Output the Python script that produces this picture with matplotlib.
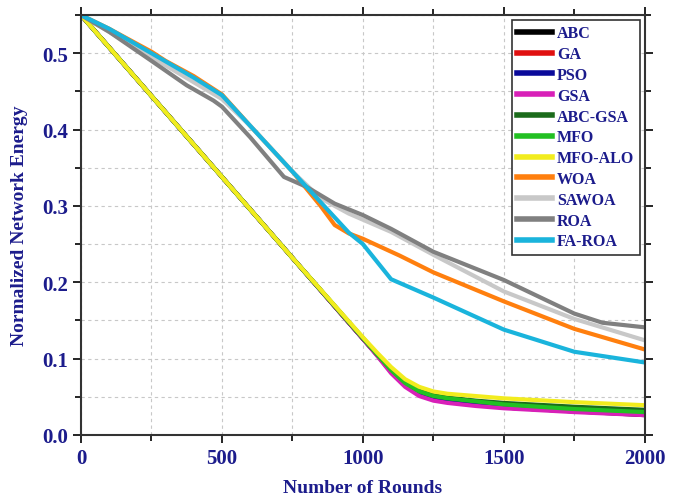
import matplotlib
matplotlib.use("Agg")
import matplotlib.pyplot as plt
from matplotlib.ticker import MultipleLocator, FormatStrFormatter

# Rounds at which the lower group of algorithms is sampled
rounds_low = [0, 250, 500, 750, 1000, 1050, 1100, 1150, 1200, 1250, 1300, 1400, 1500, 1750, 2000]

abc     = [0.55, 0.444, 0.338, 0.232, 0.126, 0.105, 0.083, 0.066, 0.054, 0.047, 0.044, 0.040, 0.036, 0.031, 0.026]
ga      = [0.55, 0.444, 0.338, 0.232, 0.126, 0.105, 0.083, 0.066, 0.054, 0.047, 0.044, 0.040, 0.036, 0.031, 0.027]
pso     = [0.55, 0.444, 0.338, 0.232, 0.126, 0.105, 0.083, 0.066, 0.054, 0.047, 0.044, 0.040, 0.036, 0.031, 0.028]
gsa     = [0.55, 0.444, 0.338, 0.232, 0.126, 0.104, 0.081, 0.063, 0.051, 0.045, 0.042, 0.038, 0.035, 0.030, 0.026]
abc_gsa = [0.55, 0.444, 0.338, 0.232, 0.127, 0.106, 0.086, 0.069, 0.058, 0.052, 0.049, 0.045, 0.042, 0.037, 0.033]
mfo     = [0.55, 0.444, 0.338, 0.232, 0.127, 0.106, 0.085, 0.068, 0.057, 0.051, 0.048, 0.044, 0.040, 0.034, 0.030]
mfo_alo = [0.55, 0.444, 0.338, 0.232, 0.128, 0.108, 0.089, 0.073, 0.063, 0.057, 0.054, 0.051, 0.048, 0.043, 0.039]

# Upper group of algorithms
woa_r   = [0, 100, 250, 300, 400, 500, 600, 750, 850, 900, 950, 1000, 1130, 1250, 1500, 1750, 2000]
woa     = [0.55, 0.532, 0.502, 0.490, 0.470, 0.446, 0.405, 0.345, 0.300, 0.275, 0.264, 0.257, 0.235, 0.213, 0.175, 0.139, 0.112]

sawoa_r = [0, 250, 500, 600, 750, 850, 950, 1000, 1100, 1250, 1500, 1750, 2000]
sawoa   = [0.55, 0.495, 0.440, 0.405, 0.345, 0.310, 0.290, 0.282, 0.266, 0.236, 0.188, 0.152, 0.124]

roa_r   = [0, 100, 250, 375, 470, 500, 600, 720, 800, 900, 1000, 1100, 1250, 1500, 1750, 1850, 2000]
roa     = [0.55, 0.528, 0.490, 0.458, 0.438, 0.430, 0.390, 0.338, 0.325, 0.303, 0.288, 0.270, 0.240, 0.203, 0.159, 0.147, 0.141]

faroa_r = [0, 100, 250, 400, 500, 600, 750, 850, 950, 1000, 1100, 1250, 1500, 1750, 2000]
faroa   = [0.55, 0.532, 0.500, 0.468, 0.445, 0.405, 0.345, 0.305, 0.265, 0.250, 0.204, 0.180, 0.138, 0.109, 0.095]

series = [
    ("ABC", rounds_low, abc, "#000000"),
    ("GA", rounds_low, ga, "#e01010"),
    ("PSO", rounds_low, pso, "#0a0a9a"),
    ("GSA", rounds_low, gsa, "#d820b8"),
    ("ABC-GSA", rounds_low, abc_gsa, "#1b6b1b"),
    ("MFO", rounds_low, mfo, "#22c022"),
    ("MFO-ALO", rounds_low, mfo_alo, "#f2ec1e"),
    ("WOA", woa_r, woa, "#ff7f0e"),
    ("SAWOA", sawoa_r, sawoa, "#c8c8c8"),
    ("ROA", roa_r, roa, "#808080"),
    ("FA-ROA", faroa_r, faroa, "#1ab4dc"),
]

text_color = "#1c1c8c"
serif = ["Liberation Serif", "DejaVu Serif"]

fig = plt.figure(figsize=(6.78, 5.02), dpi=100)
ax = fig.add_axes([0.1195, 0.1315, 0.8315, 0.8365])

for name, x, y, c in series:
    ax.plot(x, y, color=c, lw=3, label=name, solid_joinstyle="round")

ax.set_xlim(0, 2000)
ax.set_ylim(0, 0.55)
ax.xaxis.set_major_locator(MultipleLocator(500))
ax.xaxis.set_minor_locator(MultipleLocator(250))
ax.yaxis.set_major_locator(MultipleLocator(0.1))
ax.yaxis.set_minor_locator(MultipleLocator(0.05))
ax.yaxis.set_major_formatter(FormatStrFormatter("%.1f"))

ax.grid(True, which="both", color="#c8c8c8", ls=(0, (3, 3)), lw=0.8)
ax.tick_params(which="both", direction="out", top=True, right=True, width=1.2)
ax.tick_params(which="major", length=6)
ax.tick_params(which="minor", length=4)
for lab in ax.get_xticklabels() + ax.get_yticklabels():
    lab.set_family(serif)
    lab.set_fontweight("bold")
    lab.set_fontsize(15)
    lab.set_color(text_color)
for sp in ax.spines.values():
    sp.set_linewidth(1.5)
    sp.set_color("#333333")

ax.set_xlabel("Number of Rounds", family=serif, fontweight="bold", fontsize=14,
              color=text_color, labelpad=8)
ax.set_ylabel("Normalized Network Energy", family=serif, fontweight="bold", fontsize=14,
              color=text_color, labelpad=10)

leg = ax.legend(loc="upper right", prop={"family": serif, "weight": "bold", "size": 11.5},
                frameon=True, fancybox=False, edgecolor="#333333", framealpha=1,
                handlelength=2.2, handletextpad=0.3, labelspacing=0.3,
                borderaxespad=0.3, borderpad=0.35)
leg.get_frame().set_linewidth(1.2)
for t in leg.get_texts():
    t.set_color(text_color)
for h in leg.get_lines():
    h.set_linewidth(4)

fig.savefig("out.png", dpi=100)
